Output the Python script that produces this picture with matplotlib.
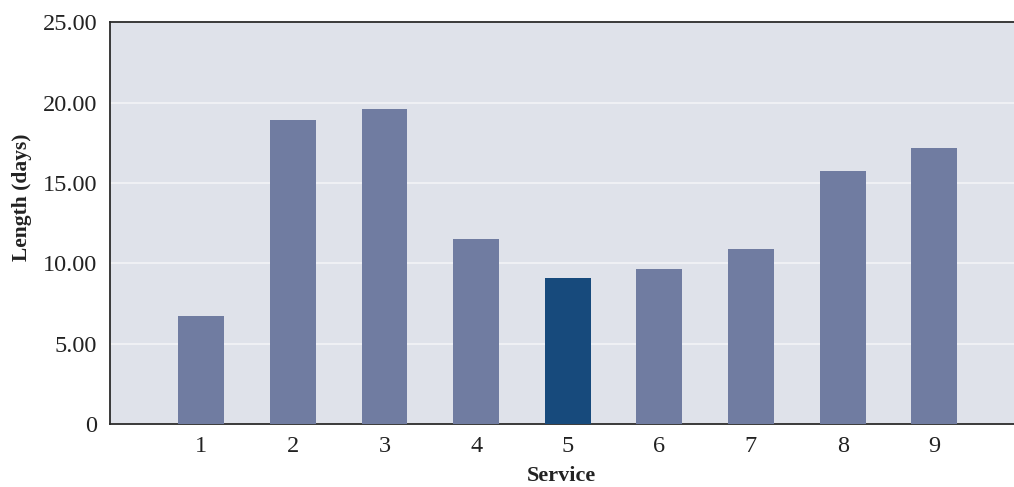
import matplotlib
matplotlib.use("Agg")
import matplotlib.pyplot as plt
from matplotlib.ticker import FixedLocator, FixedFormatter

services = [1, 2, 3, 4, 5, 6, 7, 8, 9]
length_days = [6.72, 18.9, 19.59, 11.5, 9.08, 9.64, 10.88, 15.73, 17.16]
highlight_service = 5
y_ticks = [0, 5, 10, 15, 20, 25]
y_tick_labels = ["0", "5.00", "10.00", "15.00", "20.00", "25.00"]

plt.rcParams["font.family"] = ["Liberation Serif", "DejaVu Serif"]

fig = plt.figure(figsize=(10.14, 4.87), dpi=100)
ax = fig.add_axes([0.108, 0.1294, 0.892, 0.8244])

base_color = "#707ca1"
accent_color = "#174a7c"
colors = [accent_color if s == highlight_service else base_color for s in services]

ax.set_facecolor("#dfe2ea")
ax.bar(services, length_days, width=0.5, color=colors, zorder=3)

ax.set_xlim(0, 9.87)
ax.set_ylim(0, 25)
ax.yaxis.set_major_locator(FixedLocator(y_ticks))
ax.yaxis.set_major_formatter(FixedFormatter(y_tick_labels))
ax.set_xticks(services)
ax.set_xticklabels([str(s) for s in services])

ax.grid(axis="y", color="#f4f5f8", linewidth=1.1, zorder=1)
ax.set_axisbelow(True)

for side in ["left", "bottom", "top"]:
    ax.spines[side].set_color("#2b2b2b")
    ax.spines[side].set_linewidth(1.3)
ax.spines["right"].set_visible(False)

ax.tick_params(axis="both", length=0, labelsize=17.5, colors="#222222")
ax.tick_params(axis="y", pad=9)
ax.tick_params(axis="x", pad=9)

ax.set_xlabel("Service", fontsize=16, fontweight="bold", color="#222222", labelpad=6)
ax.set_ylabel("Length (days)", fontsize=15.5, fontweight="bold", color="#222222")
ax.yaxis.set_label_coords(-0.086, 0.565)

fig.savefig("out.png", dpi=100)
